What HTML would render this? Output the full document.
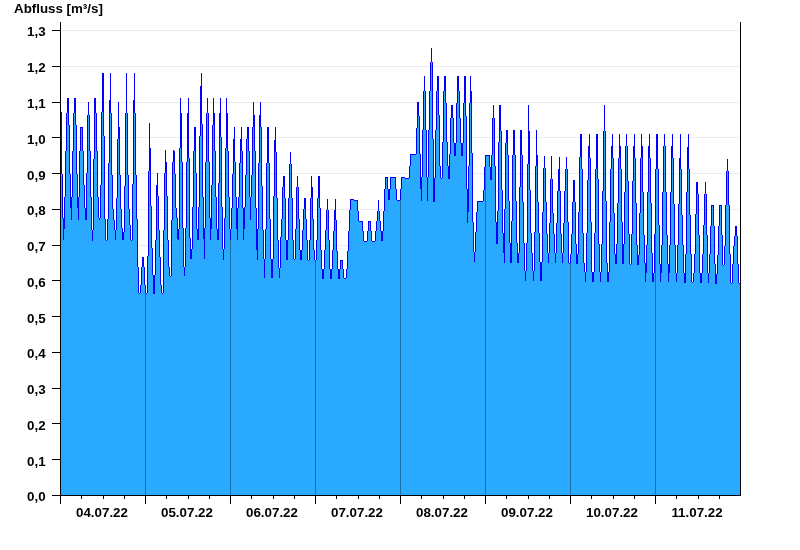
<!DOCTYPE html><html><head><meta charset="utf-8"><title>Abfluss</title><style>html,body{margin:0;padding:0;background:#fff;}svg{display:block}g.t{filter:grayscale(1)}text{font-family:"Liberation Sans",Arial,sans-serif;font-weight:bold;font-size:13.33px;fill:#000}</style></head><body><svg width="800" height="550" viewBox="0 0 800 550"><rect width="800" height="550" fill="#fff"/><g fill="#ececec" shape-rendering="crispEdges"><rect x="61" y="459" width="678" height="1"/><rect x="61" y="423" width="678" height="1"/><rect x="61" y="388" width="678" height="1"/><rect x="61" y="352" width="678" height="1"/><rect x="61" y="316" width="678" height="1"/><rect x="61" y="280" width="678" height="1"/><rect x="61" y="245" width="678" height="1"/><rect x="61" y="209" width="678" height="1"/><rect x="61" y="173" width="678" height="1"/><rect x="61" y="137" width="678" height="1"/><rect x="61" y="102" width="678" height="1"/><rect x="61" y="66" width="678" height="1"/><rect x="61" y="30" width="678" height="1"/></g><path d="M61,495V112H62V174H63V218H64V197H65V151H66V113H67V98H68V98H69V125H70V174H71V197H72V151H73V113H74V98H75V98H76V125H77V174H78V197H79V151H80V127H81V127H82V127H83V151H84V185H85V208H86V173H87V115H88V102H89V115H90V151H91V197H92V230H93V159H94V98H95V98H96V113H97V151H98V197H99V218H100V185H101V112H102V73H103V73H104V136H105V219H106V240H107V219H108V163H109V100H110V73H111V113H112V175H113V209H114V220H115V230H116V198H117V139H118V102H119V127H120V175H121V209H122V228H123V232H124V186H125V113H126V73H127V113H128V175H129V209H130V225H131V240H132V184H133V100H134V73H135V113H136V175H137V219H138V267H139V293H140V285H141V267H142V257H143V257H144V267H145V285H146V293H147V256H148V171H149V123H150V148H151V206H152V248H153V275H154V275H155V240H156V185H157V173H158V196H159V230H160V257H161V285H162V293H163V230H164V173H165V150H166V162H167V196H168V240H169V267H170V276H171V220H172V162H173V150H174V151H175V174H176V208H177V218H178V229H179V148H180V98H181V113H182V162H183V228H184V267H185V228H186V162H187V113H188V98H189V158H190V238H191V249H192V207H193V151H194V127H195V127H196V173H197V229H198V207H199V136H200V86H201V73H202V124H203V197H204V228H205V162H206V113H207V98H208V113H209V162H210V218H211V185H212V125H213V98H214V113H215V151H216V197H217V229H218V183H219V113H220V98H221V137H222V207H223V249H224V218H225V148H226V98H227V113H228V151H229V197H230V229H231V208H232V174H233V139H234V127H235V162H236V197H237V208H238V197H239V163H240V139H241V127H242V151H243V208H244V207H245V175H246V139H247V127H248V127H249V151H250V197H251V175H252V127H253V102H254V115H255V151H256V208H257V229H258V163H259V115H260V102H261V127H262V186H263V230H264V259H265V229H266V163H267V127H268V127H269V163H270V219H271V259H272V259H273V196H274V140H275V127H276V152H277V198H278V240H279V268H280V237H281V219H282V187H283V176H284V176H285V198H286V240H287V240H288V198H289V164H290V152H291V164H292V198H293V240H294V259H295V229H296V187H297V176H298V187H299V219H300V250H301V250H302V230H303V209H304V198H305V198H306V219H307V240H308V260H309V240H310V198H311V176H312V187H313V219H314V250H315V260H316V240H317V198H318V176H319V176H320V208H321V250H322V269H323V269H324V250H325V230H326V210H327V199H328V210H329V240H330V269H331V269H332V250H333V231H334V210H335V199H336V220H337V251H338V269H339V269H340V260H341V260H342V260H343V269H344V278H345V278H346V269H347V251H348V231H349V210H350V199H351V199H352V199H353V199H354V200H355V200H356V200H357V200H358V211H359V221H360V221H361V221H362V221H363V231H364V241H365V241H366V241H367V231H368V221H369V221H370V221H371V231H372V241H373V241H374V241H375V231H376V221H377V211H378V200H379V211H380V221H381V231H382V231H383V211H384V189H385V177H386V177H387V177H388V189H389V189H390V177H391V177H392V177H393V177H394V177H395V177H396V189H397V200H398V200H399V200H400V189H401V177H402V177H403V177H404V177H405V178H406V178H407V178H408V178H409V166H410V154H411V154H412V154H413V154H414V154H415V154H416V128H417V102H418V102H419V116H420V154H421V177H422V130H423V91H424V76H425V91H426V130H427V177H428V130H429V91H430V62H431V48H432V62H433V139H434V178H435V130H436V91H437V76H438V76H439V115H440V166H441V178H442V142H443V91H444V76H445V76H446V103H447V142H448V166H449V154H450V118H451V105H452V105H453V118H454V143H455V143H456V103H457V76H458V76H459V91H460V118H461V143H462V143H463V103H464V76H465V76H466V116H467V189H468V166H469V103H470V76H471V91H472V153H473V222H474V252H475V232H476V212H477V201H478V201H479V201H480V201H481V201H482V201H483V190H484V167H485V155H486V155H487V155H488V155H489V155H490V167H491V155H492V118H493V105H494V118H495V166H496V222H497V211H498V142H499V105H500V105H501V131H502V190H503V233H504V209H505V143H506V130H507V130H508V155H509V201H510V243H511V221H512V155H513V130H514V130H515V155H516V201H517V243H518V253H519V187H520V130H521V130H522V155H523V202H524V243H525V271H526V243H527V164H528V105H529V131H530V190H531V233H532V253H533V271H534V232H535V166H536V130H537V155H538V202H539V233H540V262H541V262H542V212H543V168H544V156H545V168H546V202H547V234H548V253H549V223H550V179H551V156H552V179H553V213H554V234H555V253H556V223H557V191H558V169H559V157H560V191H561V234H562V253H563V223H564V191H565V169H566V157H567V169H568V222H569V263H570V254H571V234H572V202H573V180H574V180H575V202H576V244H577V254H578V212H579V157H580V134H581V134H582V169H583V233H584V263H585V272H586V233H587V180H588V146H589V134H590V158H591V222H592V272H593V272H594V233H595V169H596V134H597V134H598V179H599V244H600V272H601V244H602V191H603V131H604V105H605V131H606V201H607V263H608V272H609V222H610V169H611V146H612V134H613V158H614V213H615V254H616V244H617V203H618V158H619V134H620V146H621V169H622V222H623V244H624V192H625V146H626V134H627V146H628V181H629V234H630V264H631V234H632V181H633V146H634V134H635V158H636V203H637V245H638V255H639V213H640V158H641V134H642V146H643V192H644V235H645V263H646V245H647V192H648V146H649V134H650V158H651V203H652V253H653V273H654V234H655V169H656V134H657V134H658V169H659V225H660V264H661V245H662V192H663V146H664V134H665V146H666V192H667V235H668V264H669V245H670V192H671V146H672V134H673V158H674V204H675V245H676V273H677V245H678V204H679V158H680V134H681V169H682V215H683V245H684V273H685V254H686V192H687V147H688V134H689V169H690V215H691V254H692V282H693V273H694V254H695V214H696V182H697V182H698V194H699V235H700V273H701V273H702V254H703V225H704V194H705V182H706V194H707V235H708V273H709V254H710V226H711V205H712V205H713V205H714V226H715V264H716V274H717V255H718V226H719V205H720V205H721V205H722V235H723V265H724V246H725V205H726V171H727V159H728V171H729V205H730V254H731V283H732V264H733V246H734V236H735V226H736V226H737V236H738V264H739V283H740V495Z" fill="#29a9ff" shape-rendering="crispEdges"/><path d="M61,112h1v62h-1zM62,174h1v44h-1zM63,218h1v22h-1zM64,197h1v32h-1zM65,151h1v46h-1zM66,113h1v38h-1zM67,98h1v15h-1zM68,98h1v27h-1zM69,125h1v49h-1zM70,174h1v34h-1zM71,197h1v23h-1zM72,151h1v46h-1zM73,113h1v38h-1zM74,98h1v15h-1zM75,98h1v27h-1zM76,125h1v49h-1zM77,174h1v34h-1zM78,197h1v23h-1zM79,151h1v46h-1zM80,127h1v24h-1zM81,127h1v1h-1zM82,127h1v24h-1zM83,151h1v34h-1zM84,185h1v23h-1zM85,208h1v12h-1zM86,173h1v47h-1zM87,115h1v58h-1zM88,102h1v13h-1zM89,115h1v36h-1zM90,151h1v46h-1zM91,197h1v33h-1zM92,230h1v11h-1zM93,159h1v71h-1zM94,98h1v61h-1zM95,98h1v15h-1zM96,113h1v38h-1zM97,151h1v46h-1zM98,197h1v21h-1zM99,218h1v2h-1zM100,185h1v33h-1zM101,112h1v73h-1zM102,73h1v39h-1zM103,73h1v63h-1zM104,136h1v83h-1zM105,219h1v21h-1zM106,240h1v1h-1zM107,219h1v21h-1zM108,163h1v56h-1zM109,100h1v63h-1zM110,73h1v40h-1zM111,113h1v62h-1zM112,175h1v34h-1zM113,209h1v11h-1zM114,220h1v10h-1zM115,230h1v10h-1zM116,198h1v32h-1zM117,139h1v59h-1zM118,102h1v37h-1zM119,127h1v48h-1zM120,175h1v34h-1zM121,209h1v19h-1zM122,228h1v12h-1zM123,232h1v8h-1zM124,186h1v46h-1zM125,113h1v73h-1zM126,73h1v40h-1zM127,113h1v62h-1zM128,175h1v34h-1zM129,209h1v16h-1zM130,225h1v15h-1zM131,240h1v1h-1zM132,184h1v56h-1zM133,100h1v84h-1zM134,73h1v40h-1zM135,113h1v62h-1zM136,175h1v44h-1zM137,219h1v48h-1zM138,267h1v26h-1zM139,293h1v1h-1zM140,285h1v8h-1zM141,267h1v18h-1zM142,257h1v10h-1zM143,257h1v10h-1zM144,267h1v18h-1zM145,285h1v8h-1zM146,293h1v1h-1zM147,256h1v37h-1zM148,171h1v85h-1zM149,123h1v48h-1zM150,148h1v58h-1zM151,206h1v42h-1zM152,248h1v27h-1zM153,275h1v19h-1zM154,275h1v19h-1zM155,240h1v35h-1zM156,185h1v55h-1zM157,173h1v23h-1zM158,196h1v34h-1zM159,230h1v27h-1zM160,257h1v28h-1zM161,285h1v8h-1zM162,293h1v1h-1zM163,230h1v63h-1zM164,173h1v57h-1zM165,150h1v23h-1zM166,162h1v34h-1zM167,196h1v44h-1zM168,240h1v27h-1zM169,267h1v9h-1zM170,276h1v1h-1zM171,220h1v56h-1zM172,162h1v58h-1zM173,150h1v12h-1zM174,151h1v23h-1zM175,174h1v34h-1zM176,208h1v10h-1zM177,218h1v21h-1zM178,229h1v11h-1zM179,148h1v81h-1zM180,98h1v50h-1zM181,113h1v49h-1zM182,162h1v66h-1zM183,228h1v39h-1zM184,267h1v9h-1zM185,228h1v39h-1zM186,162h1v66h-1zM187,113h1v49h-1zM188,98h1v60h-1zM189,158h1v80h-1zM190,238h1v21h-1zM191,249h1v10h-1zM192,207h1v42h-1zM193,151h1v56h-1zM194,127h1v24h-1zM195,127h1v46h-1zM196,173h1v56h-1zM197,229h1v11h-1zM198,207h1v33h-1zM199,136h1v71h-1zM200,86h1v50h-1zM201,73h1v51h-1zM202,124h1v73h-1zM203,197h1v42h-1zM204,228h1v31h-1zM205,162h1v66h-1zM206,113h1v49h-1zM207,98h1v15h-1zM208,113h1v49h-1zM209,162h1v56h-1zM210,218h1v22h-1zM211,185h1v44h-1zM212,125h1v60h-1zM213,98h1v27h-1zM214,113h1v38h-1zM215,151h1v46h-1zM216,197h1v32h-1zM217,229h1v11h-1zM218,183h1v57h-1zM219,113h1v70h-1zM220,98h1v39h-1zM221,137h1v70h-1zM222,207h1v42h-1zM223,249h1v11h-1zM224,218h1v31h-1zM225,148h1v70h-1zM226,98h1v50h-1zM227,113h1v38h-1zM228,151h1v46h-1zM229,197h1v32h-1zM230,229h1v11h-1zM231,208h1v21h-1zM232,174h1v34h-1zM233,139h1v35h-1zM234,127h1v35h-1zM235,162h1v35h-1zM236,197h1v32h-1zM237,208h1v32h-1zM238,197h1v11h-1zM239,163h1v34h-1zM240,139h1v24h-1zM241,127h1v24h-1zM242,151h1v57h-1zM243,208h1v32h-1zM244,207h1v22h-1zM245,175h1v32h-1zM246,139h1v36h-1zM247,127h1v12h-1zM248,127h1v24h-1zM249,151h1v46h-1zM250,197h1v23h-1zM251,175h1v22h-1zM252,127h1v48h-1zM253,102h1v25h-1zM254,115h1v36h-1zM255,151h1v57h-1zM256,208h1v42h-1zM257,229h1v31h-1zM258,163h1v66h-1zM259,115h1v48h-1zM260,102h1v25h-1zM261,127h1v59h-1zM262,186h1v44h-1zM263,230h1v29h-1zM264,259h1v19h-1zM265,229h1v30h-1zM266,163h1v66h-1zM267,127h1v36h-1zM268,127h1v36h-1zM269,163h1v56h-1zM270,219h1v40h-1zM271,259h1v19h-1zM272,259h1v19h-1zM273,196h1v63h-1zM274,140h1v56h-1zM275,127h1v25h-1zM276,152h1v46h-1zM277,198h1v42h-1zM278,240h1v28h-1zM279,268h1v10h-1zM280,237h1v31h-1zM281,219h1v18h-1zM282,187h1v32h-1zM283,176h1v11h-1zM284,176h1v22h-1zM285,198h1v42h-1zM286,240h1v20h-1zM287,240h1v20h-1zM288,198h1v42h-1zM289,164h1v34h-1zM290,152h1v12h-1zM291,164h1v34h-1zM292,198h1v42h-1zM293,240h1v19h-1zM294,259h1v1h-1zM295,229h1v30h-1zM296,187h1v42h-1zM297,176h1v11h-1zM298,187h1v32h-1zM299,219h1v31h-1zM300,250h1v10h-1zM301,250h1v10h-1zM302,230h1v20h-1zM303,209h1v21h-1zM304,198h1v11h-1zM305,198h1v21h-1zM306,219h1v21h-1zM307,240h1v20h-1zM308,260h1v1h-1zM309,240h1v20h-1zM310,198h1v42h-1zM311,176h1v22h-1zM312,187h1v32h-1zM313,219h1v31h-1zM314,250h1v10h-1zM315,260h1v1h-1zM316,240h1v20h-1zM317,198h1v42h-1zM318,176h1v22h-1zM319,176h1v32h-1zM320,208h1v42h-1zM321,250h1v19h-1zM322,269h1v10h-1zM323,269h1v10h-1zM324,250h1v19h-1zM325,230h1v20h-1zM326,210h1v20h-1zM327,199h1v11h-1zM328,210h1v30h-1zM329,240h1v29h-1zM330,269h1v10h-1zM331,269h1v10h-1zM332,250h1v19h-1zM333,231h1v19h-1zM334,210h1v21h-1zM335,199h1v21h-1zM336,220h1v31h-1zM337,251h1v18h-1zM338,269h1v10h-1zM339,269h1v10h-1zM340,260h1v9h-1zM341,260h1v1h-1zM342,260h1v9h-1zM343,269h1v9h-1zM344,278h1v1h-1zM345,278h1v1h-1zM346,269h1v9h-1zM347,251h1v18h-1zM348,231h1v20h-1zM349,210h1v21h-1zM350,199h1v11h-1zM351,199h1v1h-1zM352,199h1v1h-1zM353,199h1v1h-1zM354,200h1v1h-1zM355,200h1v1h-1zM356,200h1v1h-1zM357,200h1v11h-1zM358,211h1v10h-1zM359,221h1v1h-1zM360,221h1v1h-1zM361,221h1v1h-1zM362,221h1v10h-1zM363,231h1v10h-1zM364,241h1v1h-1zM365,241h1v1h-1zM366,241h1v1h-1zM367,231h1v10h-1zM368,221h1v10h-1zM369,221h1v1h-1zM370,221h1v10h-1zM371,231h1v10h-1zM372,241h1v1h-1zM373,241h1v1h-1zM374,241h1v1h-1zM375,231h1v10h-1zM376,221h1v10h-1zM377,211h1v10h-1zM378,200h1v11h-1zM379,211h1v10h-1zM380,221h1v10h-1zM381,231h1v10h-1zM382,231h1v10h-1zM383,211h1v20h-1zM384,189h1v22h-1zM385,177h1v12h-1zM386,177h1v1h-1zM387,177h1v12h-1zM388,189h1v11h-1zM389,189h1v11h-1zM390,177h1v12h-1zM391,177h1v1h-1zM392,177h1v1h-1zM393,177h1v1h-1zM394,177h1v1h-1zM395,177h1v12h-1zM396,189h1v11h-1zM397,200h1v1h-1zM398,200h1v1h-1zM399,200h1v1h-1zM400,189h1v11h-1zM401,177h1v12h-1zM402,177h1v1h-1zM403,177h1v1h-1zM404,177h1v1h-1zM405,178h1v1h-1zM406,178h1v1h-1zM407,178h1v1h-1zM408,178h1v1h-1zM409,166h1v12h-1zM410,154h1v12h-1zM411,154h1v1h-1zM412,154h1v1h-1zM413,154h1v1h-1zM414,154h1v1h-1zM415,154h1v1h-1zM416,128h1v26h-1zM417,102h1v26h-1zM418,102h1v14h-1zM419,116h1v38h-1zM420,154h1v35h-1zM421,177h1v24h-1zM422,130h1v47h-1zM423,91h1v39h-1zM424,76h1v15h-1zM425,91h1v39h-1zM426,130h1v47h-1zM427,177h1v24h-1zM428,130h1v47h-1zM429,91h1v39h-1zM430,62h1v29h-1zM431,48h1v14h-1zM432,62h1v77h-1zM433,139h1v63h-1zM434,178h1v24h-1zM435,130h1v48h-1zM436,91h1v39h-1zM437,76h1v15h-1zM438,76h1v39h-1zM439,115h1v51h-1zM440,166h1v12h-1zM441,178h1v1h-1zM442,142h1v36h-1zM443,91h1v51h-1zM444,76h1v15h-1zM445,76h1v27h-1zM446,103h1v39h-1zM447,142h1v24h-1zM448,166h1v13h-1zM449,154h1v25h-1zM450,118h1v36h-1zM451,105h1v13h-1zM452,105h1v13h-1zM453,118h1v25h-1zM454,143h1v13h-1zM455,143h1v13h-1zM456,103h1v40h-1zM457,76h1v27h-1zM458,76h1v15h-1zM459,91h1v27h-1zM460,118h1v25h-1zM461,143h1v13h-1zM462,143h1v13h-1zM463,103h1v40h-1zM464,76h1v27h-1zM465,76h1v40h-1zM466,116h1v73h-1zM467,189h1v34h-1zM468,166h1v46h-1zM469,103h1v63h-1zM470,76h1v27h-1zM471,91h1v62h-1zM472,153h1v69h-1zM473,222h1v30h-1zM474,252h1v10h-1zM475,232h1v20h-1zM476,212h1v20h-1zM477,201h1v11h-1zM478,201h1v1h-1zM479,201h1v1h-1zM480,201h1v1h-1zM481,201h1v1h-1zM482,201h1v1h-1zM483,190h1v11h-1zM484,167h1v23h-1zM485,155h1v12h-1zM486,155h1v1h-1zM487,155h1v1h-1zM488,155h1v1h-1zM489,155h1v12h-1zM490,167h1v13h-1zM491,155h1v25h-1zM492,118h1v37h-1zM493,105h1v13h-1zM494,118h1v48h-1zM495,166h1v56h-1zM496,222h1v22h-1zM497,211h1v33h-1zM498,142h1v69h-1zM499,105h1v37h-1zM500,105h1v26h-1zM501,131h1v59h-1zM502,190h1v43h-1zM503,233h1v20h-1zM504,209h1v54h-1zM505,143h1v66h-1zM506,130h1v13h-1zM507,130h1v25h-1zM508,155h1v46h-1zM509,201h1v42h-1zM510,243h1v20h-1zM511,221h1v42h-1zM512,155h1v66h-1zM513,130h1v25h-1zM514,130h1v25h-1zM515,155h1v46h-1zM516,201h1v42h-1zM517,243h1v20h-1zM518,253h1v10h-1zM519,187h1v66h-1zM520,130h1v57h-1zM521,130h1v25h-1zM522,155h1v47h-1zM523,202h1v41h-1zM524,243h1v28h-1zM525,271h1v10h-1zM526,243h1v28h-1zM527,164h1v79h-1zM528,105h1v59h-1zM529,131h1v59h-1zM530,190h1v43h-1zM531,233h1v20h-1zM532,253h1v18h-1zM533,271h1v10h-1zM534,232h1v39h-1zM535,166h1v66h-1zM536,130h1v36h-1zM537,155h1v47h-1zM538,202h1v31h-1zM539,233h1v29h-1zM540,262h1v19h-1zM541,262h1v19h-1zM542,212h1v50h-1zM543,168h1v44h-1zM544,156h1v12h-1zM545,168h1v34h-1zM546,202h1v32h-1zM547,234h1v19h-1zM548,253h1v10h-1zM549,223h1v30h-1zM550,179h1v44h-1zM551,156h1v23h-1zM552,179h1v34h-1zM553,213h1v21h-1zM554,234h1v19h-1zM555,253h1v10h-1zM556,223h1v30h-1zM557,191h1v32h-1zM558,169h1v22h-1zM559,157h1v34h-1zM560,191h1v43h-1zM561,234h1v19h-1zM562,253h1v10h-1zM563,223h1v30h-1zM564,191h1v32h-1zM565,169h1v22h-1zM566,157h1v12h-1zM567,169h1v53h-1zM568,222h1v41h-1zM569,263h1v1h-1zM570,254h1v9h-1zM571,234h1v20h-1zM572,202h1v32h-1zM573,180h1v22h-1zM574,180h1v22h-1zM575,202h1v42h-1zM576,244h1v20h-1zM577,254h1v10h-1zM578,212h1v42h-1zM579,157h1v55h-1zM580,134h1v23h-1zM581,134h1v35h-1zM582,169h1v64h-1zM583,233h1v30h-1zM584,263h1v9h-1zM585,272h1v10h-1zM586,233h1v39h-1zM587,180h1v53h-1zM588,146h1v34h-1zM589,134h1v24h-1zM590,158h1v64h-1zM591,222h1v50h-1zM592,272h1v10h-1zM593,272h1v10h-1zM594,233h1v39h-1zM595,169h1v64h-1zM596,134h1v35h-1zM597,134h1v45h-1zM598,179h1v65h-1zM599,244h1v28h-1zM600,272h1v10h-1zM601,244h1v28h-1zM602,191h1v53h-1zM603,131h1v60h-1zM604,105h1v26h-1zM605,131h1v70h-1zM606,201h1v62h-1zM607,263h1v19h-1zM608,272h1v10h-1zM609,222h1v50h-1zM610,169h1v53h-1zM611,146h1v23h-1zM612,134h1v24h-1zM613,158h1v55h-1zM614,213h1v41h-1zM615,254h1v10h-1zM616,244h1v20h-1zM617,203h1v41h-1zM618,158h1v45h-1zM619,134h1v24h-1zM620,146h1v23h-1zM621,169h1v53h-1zM622,222h1v42h-1zM623,244h1v20h-1zM624,192h1v52h-1zM625,146h1v46h-1zM626,134h1v12h-1zM627,146h1v35h-1zM628,181h1v53h-1zM629,234h1v30h-1zM630,264h1v1h-1zM631,234h1v30h-1zM632,181h1v53h-1zM633,146h1v35h-1zM634,134h1v24h-1zM635,158h1v45h-1zM636,203h1v42h-1zM637,245h1v20h-1zM638,255h1v10h-1zM639,213h1v42h-1zM640,158h1v55h-1zM641,134h1v24h-1zM642,146h1v46h-1zM643,192h1v43h-1zM644,235h1v28h-1zM645,263h1v19h-1zM646,245h1v28h-1zM647,192h1v53h-1zM648,146h1v46h-1zM649,134h1v24h-1zM650,158h1v45h-1zM651,203h1v50h-1zM652,253h1v29h-1zM653,273h1v9h-1zM654,234h1v39h-1zM655,169h1v65h-1zM656,134h1v35h-1zM657,134h1v35h-1zM658,169h1v56h-1zM659,225h1v39h-1zM660,264h1v18h-1zM661,245h1v28h-1zM662,192h1v53h-1zM663,146h1v46h-1zM664,134h1v12h-1zM665,146h1v46h-1zM666,192h1v43h-1zM667,235h1v29h-1zM668,264h1v18h-1zM669,245h1v28h-1zM670,192h1v53h-1zM671,146h1v46h-1zM672,134h1v24h-1zM673,158h1v46h-1zM674,204h1v41h-1zM675,245h1v28h-1zM676,273h1v9h-1zM677,245h1v28h-1zM678,204h1v41h-1zM679,158h1v46h-1zM680,134h1v35h-1zM681,169h1v46h-1zM682,215h1v30h-1zM683,245h1v28h-1zM684,273h1v10h-1zM685,254h1v29h-1zM686,192h1v62h-1zM687,147h1v45h-1zM688,134h1v35h-1zM689,169h1v46h-1zM690,215h1v39h-1zM691,254h1v28h-1zM692,282h1v1h-1zM693,273h1v9h-1zM694,254h1v19h-1zM695,214h1v40h-1zM696,182h1v32h-1zM697,182h1v12h-1zM698,194h1v41h-1zM699,235h1v38h-1zM700,273h1v10h-1zM701,273h1v10h-1zM702,254h1v19h-1zM703,225h1v29h-1zM704,194h1v31h-1zM705,182h1v12h-1zM706,194h1v41h-1zM707,235h1v38h-1zM708,273h1v10h-1zM709,254h1v19h-1zM710,226h1v28h-1zM711,205h1v21h-1zM712,205h1v1h-1zM713,205h1v21h-1zM714,226h1v38h-1zM715,264h1v20h-1zM716,274h1v10h-1zM717,255h1v19h-1zM718,226h1v29h-1zM719,205h1v21h-1zM720,205h1v1h-1zM721,205h1v30h-1zM722,235h1v30h-1zM723,265h1v1h-1zM724,246h1v19h-1zM725,205h1v41h-1zM726,171h1v34h-1zM727,159h1v12h-1zM728,171h1v34h-1zM729,205h1v49h-1zM730,254h1v29h-1zM731,283h1v1h-1zM732,264h1v19h-1zM733,246h1v18h-1zM734,236h1v10h-1zM735,226h1v10h-1zM736,226h1v10h-1zM737,236h1v28h-1zM738,264h1v19h-1zM739,283h1v1h-1z" fill="#0000ff" shape-rendering="crispEdges"/><g fill="#1b6ea6" shape-rendering="crispEdges"><rect x="145" y="293" width="1" height="202"/><rect x="230" y="240" width="1" height="255"/><rect x="315" y="261" width="1" height="234"/><rect x="400" y="200" width="1" height="295"/><rect x="485" y="167" width="1" height="328"/><rect x="570" y="263" width="1" height="232"/><rect x="655" y="234" width="1" height="261"/></g><g fill="#000" shape-rendering="crispEdges"><rect x="60" y="22" width="1" height="474"/><rect x="740" y="22" width="1" height="474"/><rect x="60" y="495" width="681" height="1"/><rect x="52" y="495" width="8" height="1"/><rect x="52" y="459" width="8" height="1"/><rect x="52" y="423" width="8" height="1"/><rect x="52" y="388" width="8" height="1"/><rect x="52" y="352" width="8" height="1"/><rect x="52" y="316" width="8" height="1"/><rect x="52" y="280" width="8" height="1"/><rect x="52" y="245" width="8" height="1"/><rect x="52" y="209" width="8" height="1"/><rect x="52" y="173" width="8" height="1"/><rect x="52" y="137" width="8" height="1"/><rect x="52" y="102" width="8" height="1"/><rect x="52" y="66" width="8" height="1"/><rect x="52" y="30" width="8" height="1"/><rect x="60" y="495" width="1" height="9"/><rect x="81" y="495" width="1" height="4"/><rect x="103" y="495" width="1" height="4"/><rect x="124" y="495" width="1" height="4"/><rect x="145" y="495" width="1" height="9"/><rect x="166" y="495" width="1" height="4"/><rect x="188" y="495" width="1" height="4"/><rect x="209" y="495" width="1" height="4"/><rect x="230" y="495" width="1" height="9"/><rect x="251" y="495" width="1" height="4"/><rect x="273" y="495" width="1" height="4"/><rect x="294" y="495" width="1" height="4"/><rect x="315" y="495" width="1" height="9"/><rect x="336" y="495" width="1" height="4"/><rect x="358" y="495" width="1" height="4"/><rect x="379" y="495" width="1" height="4"/><rect x="400" y="495" width="1" height="9"/><rect x="421" y="495" width="1" height="4"/><rect x="443" y="495" width="1" height="4"/><rect x="464" y="495" width="1" height="4"/><rect x="485" y="495" width="1" height="9"/><rect x="506" y="495" width="1" height="4"/><rect x="528" y="495" width="1" height="4"/><rect x="549" y="495" width="1" height="4"/><rect x="570" y="495" width="1" height="9"/><rect x="591" y="495" width="1" height="4"/><rect x="613" y="495" width="1" height="4"/><rect x="634" y="495" width="1" height="4"/><rect x="655" y="495" width="1" height="9"/><rect x="676" y="495" width="1" height="4"/><rect x="698" y="495" width="1" height="4"/><rect x="719" y="495" width="1" height="4"/></g><g class="t"><text x="14" y="12.7">Abfluss [m³/s]</text><text x="45.6" y="501.4" text-anchor="end">0,0</text><text x="45.6" y="465.6" text-anchor="end">0,1</text><text x="45.6" y="429.9" text-anchor="end">0,2</text><text x="45.6" y="394.1" text-anchor="end">0,3</text><text x="45.6" y="358.3" text-anchor="end">0,4</text><text x="45.6" y="322.5" text-anchor="end">0,5</text><text x="45.6" y="286.8" text-anchor="end">0,6</text><text x="45.6" y="251.0" text-anchor="end">0,7</text><text x="45.6" y="215.2" text-anchor="end">0,8</text><text x="45.6" y="179.5" text-anchor="end">0,9</text><text x="45.6" y="143.7" text-anchor="end">1,0</text><text x="45.6" y="107.9" text-anchor="end">1,1</text><text x="45.6" y="72.2" text-anchor="end">1,2</text><text x="45.6" y="36.4" text-anchor="end">1,3</text><text x="102.0" y="516.7" text-anchor="middle">04.07.22</text><text x="187.0" y="516.7" text-anchor="middle">05.07.22</text><text x="272.0" y="516.7" text-anchor="middle">06.07.22</text><text x="357.0" y="516.7" text-anchor="middle">07.07.22</text><text x="442.0" y="516.7" text-anchor="middle">08.07.22</text><text x="527.0" y="516.7" text-anchor="middle">09.07.22</text><text x="612.0" y="516.7" text-anchor="middle">10.07.22</text><text x="697.0" y="516.7" text-anchor="middle">11.07.22</text></g></svg></body></html>
